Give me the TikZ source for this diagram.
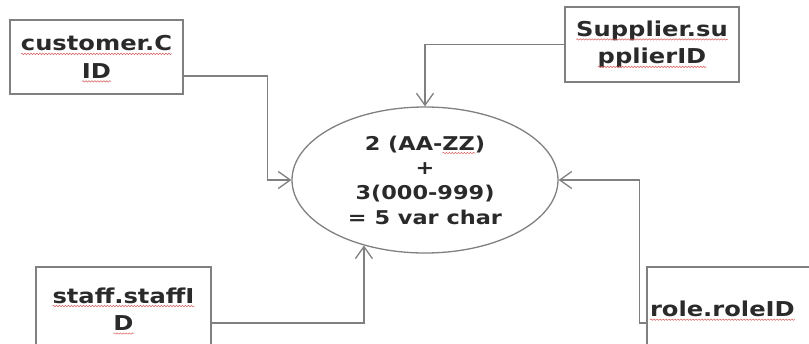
\documentclass[tikz,border=0pt]{standalone}
\usepackage{fontspec}
\setmainfont[FakeStretch=1.18]{DejaVu Sans}
\usetikzlibrary{arrows.meta,shapes.geometric,calc,decorations.pathmorphing}
\definecolor{linegray}{RGB}{128,128,128}
\definecolor{txt}{RGB}{42,42,42}
\definecolor{spellred}{RGB}{215,90,90}
\tikzset{plainword/.style={shape=rectangle, draw=none, minimum width=0pt, minimum height=0pt,
  inner sep=0pt, outer sep=0pt, text width=, text=txt}}
\newcommand\spellmark[1]{\tikz[baseline=(w.base), x=1pt, y=1pt]{\node[plainword] (w) {#1};
  \draw[overlay, spellred, line width=0.5pt, decorate, decoration={snake,amplitude=0.7pt,segment length=3pt}]
    ([yshift=-3pt]w.base west) -- ([yshift=-3pt]w.base east);}}
\begin{document}
\begin{tikzpicture}[x=1pt,y=-1pt,
  box/.style={draw=linegray, line width=1.3pt, rectangle, inner sep=0pt, align=center,
    font=\fontsize{20.5}{27.5}\selectfont\bfseries, text=txt},
  conn/.style={draw=linegray, line width=1.3pt,
    -{Straight Barb[length=12pt,width=17pt]}}]
\useasboundingbox (0,0) rectangle (809,343);
\node[box, minimum width=173pt, minimum height=74pt] (cust) at (96.5,57)
  {\spellmark{customer.C}\\\spellmark{ID}};
\node[box, minimum width=174pt, minimum height=75pt] (sup) at (652,44.5)
  {\spellmark{Supplier.su}\\\spellmark{pplierID}};
\node[box, minimum width=175pt, minimum height=84pt] (staff) at (123.5,309)
  {\spellmark{staff.staffI}\\\spellmark{D}};
\node[box, minimum width=168pt, minimum height=84pt, text width=162pt, align=left] (role) at (731,309)
  {\spellmark{role.roleID}};
\node[ellipse, draw=linegray, line width=1.3pt, minimum width=266pt, minimum height=146pt,
  inner sep=0pt, align=center, font=\fontsize{19}{24.7}\selectfont\bfseries, text=txt] (ell) at (425,180)
  {2 (AA-\spellmark{ZZ})\\+\\3(000-999)\\= 5 var char};
\draw[conn] ([yshift=-19pt]cust.east) -| ([xshift=-24pt]ell.west) -- (ell.west);
\draw[conn] (sup.west) -| (ell.north);
\draw[conn] ([yshift=-14pt]staff.east) -| (ell.227);
\draw[conn] ([yshift=-14pt]role.west) -- ++(-7,0) |- (ell.east);
\end{tikzpicture}
\end{document}
